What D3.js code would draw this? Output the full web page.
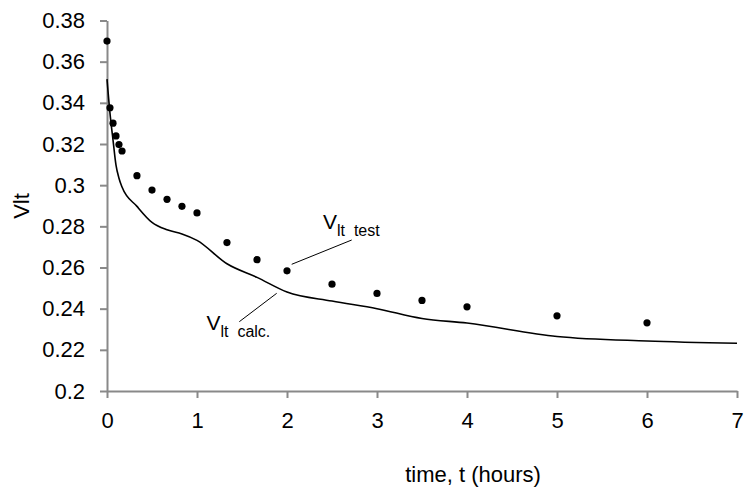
<!DOCTYPE html>
<html>
<head>
<meta charset="utf-8">
<script src="https://cdn.jsdelivr.net/npm/d3@7"></script>
<style>
  body { margin: 0; background: #fff; }
  text { font-family: "Liberation Sans", Arial, sans-serif; fill: #000; }
</style>
</head>
<body>
<div class="chart"></div>
<script>
// measured test points
var testTimes = [0, 0.033, 0.067, 0.1, 0.133, 0.167, 0.333, 0.5, 0.667, 0.833, 1, 1.333, 1.667, 2, 2.5, 3, 3.5, 4, 5, 6];
var testValues = [0.370, 0.3376, 0.3301, 0.3239, 0.3197, 0.3166, 0.3046, 0.2976, 0.2931, 0.2897, 0.2865, 0.2721, 0.2638, 0.2584, 0.2519, 0.2474, 0.2440, 0.2409, 0.2365, 0.2331];

// calculated curve
var calcTimes = [0, 0.033, 0.067, 0.1, 0.133, 0.167, 0.333, 0.5, 0.667, 0.833, 1, 1.333, 1.667, 2, 2.5, 3, 3.5, 4, 5, 6, 7];
var calcValues = [0.3515, 0.335, 0.3219, 0.3097, 0.3034, 0.2991, 0.2897, 0.2819, 0.2783, 0.2763, 0.2732, 0.2618, 0.2552, 0.2481, 0.2437, 0.2400, 0.2352, 0.2330, 0.2265, 0.2243, 0.2232];

var xTicks = [0, 1, 2, 3, 4, 5, 6, 7];
var yTicks = [0.2, 0.22, 0.24, 0.26, 0.28, 0.3, 0.32, 0.34, 0.36, 0.38];

var Chart = {
    width: 745,
    height: 490,
    left: 107,
    right: 737,
    top: 20.5,
    bottom: 391,
    axisColor: "#898989",
    fontSize: 22,
    init: function () {
        this.svg = d3.select(".chart").append("svg")
            .attr("width", this.width)
            .attr("height", this.height);

        this.x = d3.scaleLinear().domain([0, 7]).range([this.left, this.right]);
        this.y = d3.scaleLinear().domain([0.2, 0.38]).range([this.bottom, this.top]);

        this.drawAxes();
        this.drawLine();
        this.drawPoints();
        this.drawLabels();
    },
    drawAxes: function () {
        var c = this;
        var yAxis = d3.axisLeft(this.y)
            .tickValues(yTicks)
            .tickSize(7)
            .tickPadding(15)
            .tickSizeOuter(0)
            .tickFormat(function (d) { return String(+d.toFixed(2)); });
        var xAxis = d3.axisBottom(this.x)
            .tickValues(xTicks)
            .tickSize(7)
            .tickPadding(14)
            .tickSizeOuter(0)
            .tickFormat(d3.format("d"));

        var gy = this.svg.append("g")
            .attr("transform", "translate(" + this.left + ",0)")
            .call(yAxis);
        var gx = this.svg.append("g")
            .attr("transform", "translate(0," + this.bottom + ")")
            .call(xAxis);

        [gx, gy].forEach(function (g) {
            g.selectAll(".domain, .tick line").attr("stroke", c.axisColor).attr("stroke-width", 2);
            g.selectAll("text")
                .attr("font-size", c.fontSize)
                .attr("font-family", "Liberation Sans, Arial, sans-serif")
                .attr("fill", "#000");
        });

        this.svg.append("text")
            .attr("x", 473)
            .attr("y", 482)
            .attr("text-anchor", "middle")
            .attr("font-size", c.fontSize)
            .text("time, t (hours)");

        this.svg.append("text")
            .attr("transform", "translate(29,206) rotate(-90)")
            .attr("text-anchor", "middle")
            .attr("font-size", c.fontSize)
            .text("Vlt");
    },
    drawLine: function () {
        var c = this;
        var line = d3.line()
            .x(function (d, i) { return c.x(calcTimes[i]); })
            .y(function (d) { return c.y(d); })
            .curve(d3.curveMonotoneX);

        this.svg.append("path")
            .attr("d", line(calcValues))
            .attr("fill", "none")
            .attr("stroke", "#000")
            .attr("stroke-width", 1.6);
    },
    drawPoints: function () {
        var c = this;
        this.svg.selectAll(".pt")
            .data(testValues)
            .enter()
            .append("circle")
            .attr("class", "pt")
            .attr("cx", function (d, i) { return c.x(testTimes[i]); })
            .attr("cy", function (d) { return c.y(d); })
            .attr("r", 3.6)
            .attr("fill", "#000");
    },
    drawLabels: function () {
        var svg = this.svg;

        function label(x, y, sub) {
            var t = svg.append("text")
                .attr("x", x)
                .attr("y", y)
                .attr("font-size", 21);
            t.append("tspan").text("V");
            t.append("tspan")
                .attr("font-size", 16)
                .attr("dy", 7)
                .attr("xml:space", "preserve")
                .text(sub);
        }

        label(323, 228.5, "lt  test");
        label(206.5, 330, "lt  calc.");

        svg.append("line")
            .attr("x1", 291.7).attr("y1", 264.3)
            .attr("x2", 351.7).attr("y2", 240)
            .attr("stroke", "#000").attr("stroke-width", 1);
        svg.append("line")
            .attr("x1", 239.3).attr("y1", 321.7)
            .attr("x2", 276.7).attr("y2", 293.3)
            .attr("stroke", "#000").attr("stroke-width", 1);
    }
};

Chart.init();
</script>
</body>
</html>
